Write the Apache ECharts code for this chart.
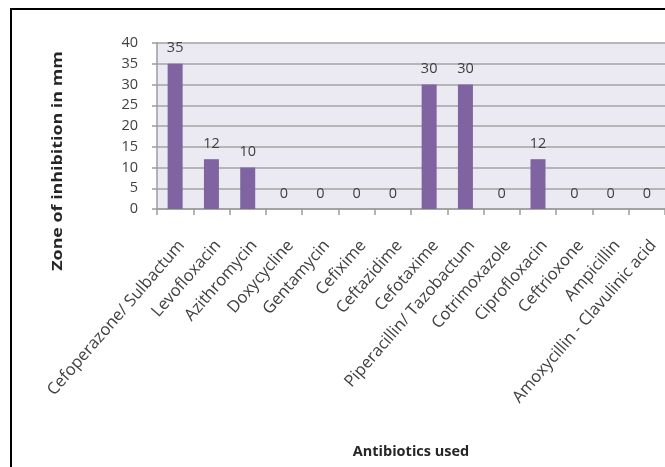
<!DOCTYPE html>
<html>
<head>
<meta charset="utf-8">
<script src="https://cdn.jsdelivr.net/npm/echarts@6/dist/echarts.min.js"></script>
<style>
  html, body { margin: 0; padding: 0; background: #ffffff; }
  #chart { width: 665px; height: 467px; }
</style>
</head>
<body>
<div id="chart"></div>
<script>
// Antibiotics tested and their zone of inhibition (mm)
const antibiotics = [
  'Cefoperazone/ Sulbactum',
  'Levofloxacin',
  'Azithromycin',
  'Doxycycline',
  'Gentamycin',
  'Cefixime',
  'Ceftazidime',
  'Cefotaxime',
  'Piperacillin/ Tazobactum',
  'Cotrimoxazole',
  'Ciprofloxacin',
  'Ceftrioxone',
  'Ampicillin',
  'Amoxycillin - Clavulinic acid'
];
const zoneMm = [35, 12, 10, 0, 0, 0, 0, 30, 30, 0, 12, 0, 0, 0];
const yTicks = [0, 5, 10, 15, 20, 25, 30, 35, 40];

const FONT = '"Open Sans", "Liberation Sans", sans-serif';
const TEXT = '#404040';

const chart = echarts.init(document.getElementById('chart'), null, { renderer: 'canvas' });

chart.setOption({
  backgroundColor: '#ffffff',
  animation: false,
  grid: {
    left: 157, top: 43, width: 508, height: 166,
    show: true, backgroundColor: '#ebe9f1', borderWidth: 0
  },
  xAxis: {
    type: 'category',
    data: antibiotics,
    boundaryGap: true,
    axisLine: { show: true, lineStyle: { color: '#9c9c9c', width: 1.5 } },
    axisTick: { show: true, alignWithLabel: false, length: 6, lineStyle: { color: '#9c9c9c', width: 1.5 } },
    axisLabel: {
      interval: 0, rotate: 49, margin: 28,
      align: 'right', verticalAlign: 'top',
      fontFamily: FONT, fontSize: 16.5, color: TEXT
    },
    splitLine: { show: false }
  },
  yAxis: {
    type: 'value',
    min: yTicks[0], max: yTicks[yTicks.length - 1], interval: yTicks[1] - yTicks[0],
    axisLine: { show: true, lineStyle: { color: '#9c9c9c', width: 1.5 } },
    axisTick: { show: true, inside: false, length: 5, lineStyle: { color: '#9c9c9c', width: 1.5 } },
    axisLabel: { margin: 19, fontFamily: FONT, fontSize: 14.5, color: TEXT },
    splitLine: { show: true, lineStyle: { color: '#a3a3a3', width: 1.5 } }
  },
  series: [{
    type: 'bar',
    data: zoneMm,
    barWidth: 15,
    itemStyle: { color: '#8064a2', borderWidth: 0 },
    label: {
      show: true, position: 'top', distance: 8,
      fontFamily: FONT, fontSize: 14.5, color: TEXT
    }
  }],
  graphic: [
    // frame around the chart area
    { type: 'line', shape: { x1: 10, y1: 9, x2: 665, y2: 9 }, style: { stroke: '#000000', lineWidth: 2 } },
    { type: 'line', shape: { x1: 11, y1: 8, x2: 11, y2: 467 }, style: { stroke: '#000000', lineWidth: 2 } },
    // axis titles
    {
      type: 'text', x: 58, y: 161, rotation: Math.PI / 2, scaleX: 1.19,
      style: {
        text: 'Zone of inhibition in mm', fontFamily: FONT, fontSize: 15, fontWeight: 'bold',
        fill: '#262626', align: 'center', verticalAlign: 'middle'
      }
    },
    {
      type: 'text', x: 411, y: 452,
      style: {
        text: 'Antibiotics used', fontFamily: FONT, fontSize: 14.5, fontWeight: 'bold',
        fill: '#262626', align: 'center', verticalAlign: 'middle'
      }
    }
  ]
});
</script>
</body>
</html>
